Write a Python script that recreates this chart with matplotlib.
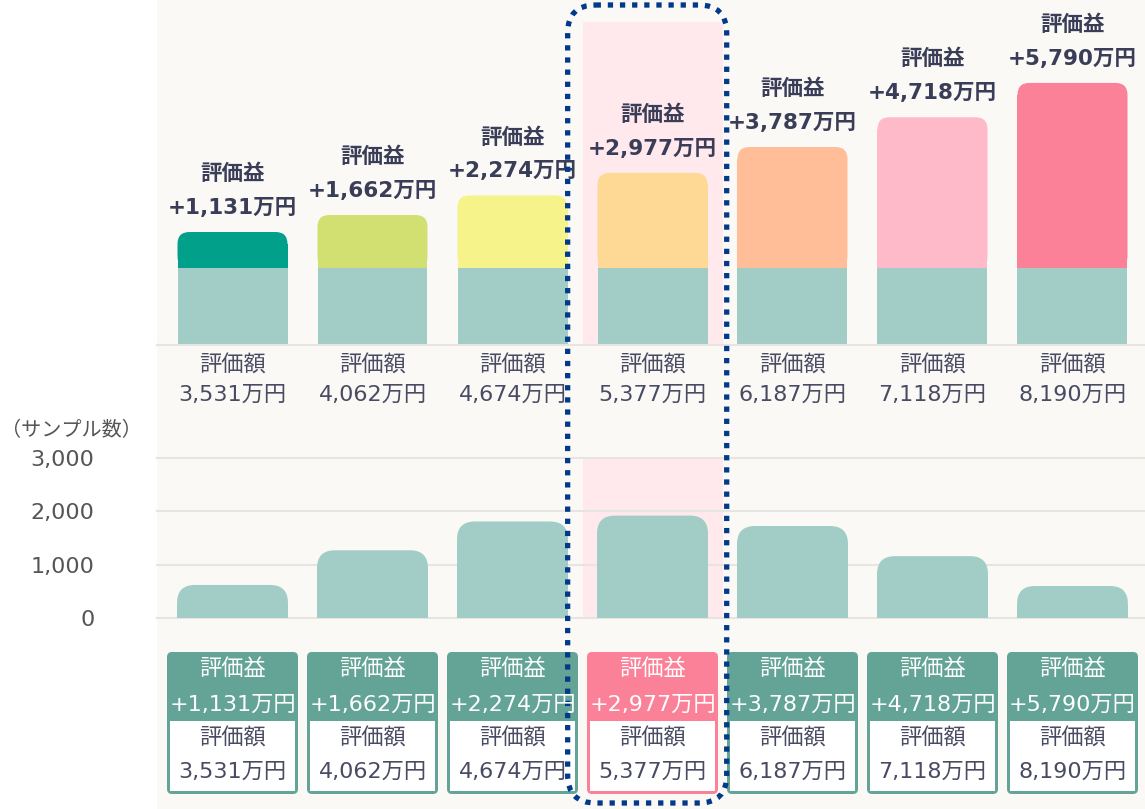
import matplotlib
matplotlib.use("Agg")
import matplotlib.pyplot as plt
from matplotlib.patches import FancyBboxPatch, Rectangle

plt.rcParams["font.family"] = ["DejaVu Sans", "Noto Sans CJK JP"]

# Data (万円 / サンプル数)
gains = [1131, 1662, 2274, 2977, 3787, 4718, 5790]      # 評価益
values = [3531, 4062, 4674, 5377, 6187, 7118, 8190]     # 評価額
principal = [v - g for v, g in zip(values, gains)]      # 元本
samples = [620, 1270, 1810, 1920, 1725, 1160, 600]
sample_ticks = [0, 1000, 2000, 3000]
gain_colors = ["#00a08a", "#d2e072", "#f5f38a", "#fdd995",
               "#ffbd98", "#ffbaca", "#fb8198"]
highlight = 3

TEAL_LIGHT = "#a1cdc6"
TEAL_BOX = "#63a496"
PINK_BOX = "#fb8198"
PINK_BG = "#ffe9ec"
GRID = "#e8e5e1"
NAVY_TXT = "#3a3d58"
TXT = "#484b62"
GRAY_TXT = "#555555"

W, H = 1145, 809
C0, STEP = 232.5, 140.0   # bar centre and spacing in pixels
FS = 16
FS_BOLD = 15.5


def frac(x0, y0, x1, y1):
    return [x0 / W, 1 - y1 / H, (x1 - x0) / W, (y1 - y0) / H]


def round_bars(ax, bars, radius_px):
    # swap plain bars for bars with rounded top corners only
    pos = ax.get_position()
    x0, x1 = ax.get_xlim()
    y0, y1 = ax.get_ylim()
    upx = (x1 - x0) / (pos.width * W)
    vpx = (y1 - y0) / (pos.height * H)
    r_y = radius_px * vpx
    for b in bars:
        bx, by, w, h = b.get_x(), b.get_y(), b.get_width(), b.get_height()
        fc, z = b.get_facecolor(), b.get_zorder()
        ax.add_patch(FancyBboxPatch((bx, by), w, h,
                                    boxstyle="round,pad=0,rounding_size=%f" % (radius_px * upx),
                                    mutation_aspect=vpx / upx, fc=fc, ec="none", zorder=z))
        if h > r_y:
            ax.add_patch(Rectangle((bx, by), w, h - r_y, fc=fc, ec="none", zorder=z))
        b.remove()


fig = plt.figure(figsize=(W / 100, H / 100), dpi=100)
fig.add_artist(Rectangle((157 / W, 0), 1 - 157 / W, 1, transform=fig.transFigure,
                         fc="#fbf9f6", ec="none", zorder=-10))

x = list(range(len(values)))
xlim = ((157 - C0) / STEP, (W - C0) / STEP)
bw = 110 / STEP

# Top chart: 評価額 = 元本 + 評価益
ax = fig.add_axes(frac(157, 0, W, 345))
ax.set_xlim(xlim)
ax.set_ylim(0, 345 / 0.032)
ax.axis("off")
ax.axvspan(highlight - 0.5, highlight + 0.5, ymax=(345 - 22) / 345, color=PINK_BG, lw=0, zorder=0)
ax.bar(x, principal, width=bw, color=TEAL_LIGHT, zorder=3)
bars = ax.bar(x, gains, bottom=principal, width=bw, color=gain_colors, zorder=2)
round_bars(ax, bars, 12)
ax.axhline(0, color=GRID, lw=1.5, clip_on=False, zorder=4)
for i in x:
    ax.annotate("評価益", (i, values[i]), xytext=(0, 58), textcoords="offset pixels",
                ha="center", va="center", fontsize=FS_BOLD, fontweight="bold", color=NAVY_TXT)
    ax.annotate("+{:,}万円".format(gains[i]), (i, values[i]), xytext=(0, 24),
                textcoords="offset pixels", ha="center", va="center", fontsize=FS_BOLD,
                fontweight="bold", color=NAVY_TXT)
    ax.annotate("評価額", (i, 0), xytext=(0, -20), textcoords="offset pixels",
                ha="center", va="center", fontsize=FS, color=TXT)
    ax.annotate("{:,}万円".format(values[i]), (i, 0), xytext=(0, -50),
                textcoords="offset pixels", ha="center", va="center", fontsize=FS, color=TXT)

# Bottom chart: sample counts
ax2 = fig.add_axes(frac(157, 458, W, 618))
ax2.set_xlim(xlim)
ax2.set_ylim(0, 3000)
for s in ax2.spines.values():
    s.set_visible(False)
ax2.set_xticks([])
ax2.set_yticks(sample_ticks)
ax2.set_yticklabels(["{:,}".format(t) for t in sample_ticks])
ax2.tick_params(axis="y", length=0, pad=45, labelsize=FS, labelcolor=GRAY_TXT)
ax2.set_facecolor("none")
ax2.axvspan(highlight - 0.5, highlight + 0.5, color=PINK_BG, lw=0, zorder=0)
for t in sample_ticks:
    ax2.axhline(t, color=GRID, lw=1.5, clip_on=False, zorder=1)
bars2 = ax2.bar(x, samples, width=111 / STEP, color=TEAL_LIGHT, zorder=2)
round_bars(ax2, bars2, 18)
fig.text(1 / W, 1 - 430 / H, "（サンプル数）", ha="left", va="center",
         fontsize=14.5, color=GRAY_TXT)

# Overlay: label boxes and dotted frame
ov = fig.add_axes([0, 0, 1, 1], zorder=5)
ov.set_xlim(-C0 / STEP, (W - C0) / STEP)
ov.set_ylim(H, 0)
ov.axis("off")
ov.set_facecolor("none")
r = 5 / STEP
bxw = 131 / STEP
for i in x:
    hc = PINK_BOX if i == highlight else TEAL_BOX
    ov.add_patch(FancyBboxPatch((i - bxw / 2, 652), bxw, 142,
                                boxstyle="round,pad=0,rounding_size=%f" % r,
                                mutation_aspect=STEP, fc=hc, ec="none"))
    ov.add_patch(Rectangle((i - bxw / 2 + 3 / STEP, 721), bxw - 6 / STEP, 70,
                           fc="white", ec="none"))
    ov.text(i, 669, "評価益", ha="center", va="center", fontsize=FS, color="white")
    ov.text(i, 705, "+{:,}万円".format(gains[i]), ha="center", va="center",
            fontsize=FS, color="white")
    ov.text(i, 738, "評価額", ha="center", va="center", fontsize=FS, color=TXT)
    ov.text(i, 772, "{:,}万円".format(values[i]), ha="center", va="center",
            fontsize=FS, color=TXT)

ov.add_patch(FancyBboxPatch((highlight - 0.606, 5), 1.136, 798,
                            boxstyle="round,pad=0,rounding_size=%f" % (28 / STEP),
                            mutation_aspect=STEP, fill=False, ec="#013a8a",
                            lw=3.8, ls=(0, (1.0, 1.3))))

fig.savefig("out.png", dpi=100)
